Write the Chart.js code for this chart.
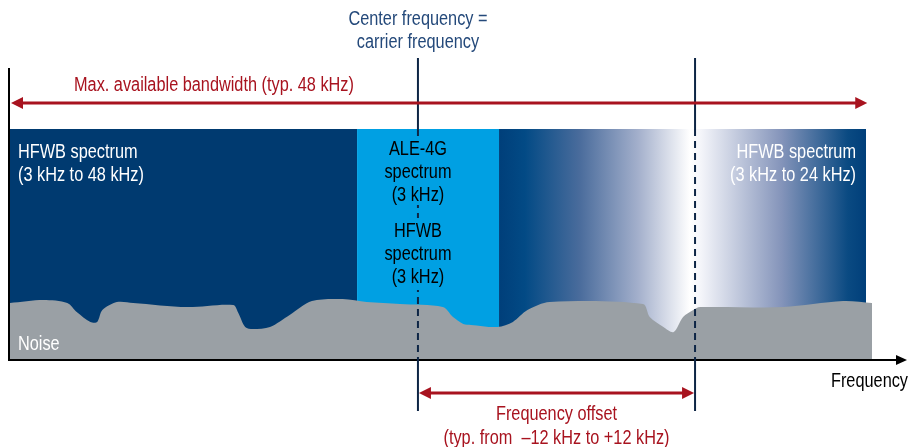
<!DOCTYPE html>
<html>
<head>
<meta charset="utf-8">
<script src="https://cdn.jsdelivr.net/npm/chart.js@4.4.1/dist/chart.umd.min.js"></script>
<style>
html, body { margin: 0; padding: 0; background: #fff; }
#wrap { width: 910px; height: 447px; position: relative; }
</style>
</head>
<body>
<div id="wrap"><canvas id="chart"></canvas></div>
<script>
// x: relative frequency (0 = lower band edge, 100 = upper band edge)
// y: level in % of spectrum block height
const bandNames = ["HFWB spectrum (3 kHz to 48 kHz)", "ALE-4G / HFWB spectrum (3 kHz)", "HFWB spectrum (3 kHz to 24 kHz)"];
const bandStart = [0, 40.58, 57.18];
const bandEnd = [40.58, 57.18, 100.1];
const bandLevel = [100, 100, 100];

const noiseFreq = [0, 3.9, 6.7, 7.8, 9.4, 10.2, 10.8, 12.5, 14.4, 20.7, 26.1, 26.7, 27.5, 28.4, 30.4, 32.7, 35.3, 38.9, 41.7, 45.6, 50.6, 51.8, 53.0, 53.9, 57.0, 58.8, 60.5, 63.1, 74.0, 74.8, 76.4, 77.6, 78.7, 79.9, 80.7, 90.4, 97.4, 100.8];
const noiseLevel = [24.7, 26.0, 24.7, 20.8, 16.5, 16.5, 21.6, 25.1, 24.7, 22.9, 23.8, 20.3, 14.3, 13.4, 14.3, 19.5, 25.5, 26.4, 25.1, 24.2, 22.9, 18.6, 15.6, 15.2, 14.3, 16.5, 21.6, 25.1, 24.2, 18.6, 14.3, 12.1, 18.6, 21.6, 22.9, 22.9, 25.5, 24.7];

const centerFreq = 47.7;
const offsetFreq = 80.1;

const DARK = "#003a70";
const LIGHT = "#00a0e3";
const GREY = "#9aa0a5";
const RED = "#a8131f";
const NAVY = "#0d2545";
const BLUE_TXT = "#24497a";
const FONT = "'Liberation Sans', Arial, sans-serif";
const CONDENSE = 0.815;

function gradientFill(context) {
  const chart = context.chart;
  const xs = chart.scales.x;
  if (!xs || !chart.chartArea) return DARK;
  const x0 = xs.getPixelForValue(bandStart[2]);
  const x1 = xs.getPixelForValue(bandEnd[2]);
  const g = chart.ctx.createLinearGradient(x0, 0, x1, 0);
  g.addColorStop(0, "#003f7a");
  g.addColorStop(0.07, "#024a85");
  g.addColorStop(0.22, "#4a6c9c");
  g.addColorStop(0.38, "#a4b0cc");
  g.addColorStop(0.52, "#ffffff");
  g.addColorStop(0.55, "#f4f5fa");
  g.addColorStop(0.77, "#8494ba");
  g.addColorStop(0.95, "#0a4a82");
  g.addColorStop(1, "#003f7a");
  return g;
}

const bandColors = [DARK, LIGHT, gradientFill];

const datasets = [{
  label: "Noise",
  data: noiseFreq.map((f, i) => ({ x: f, y: noiseLevel[i] })),
  backgroundColor: GREY,
  borderColor: "transparent",
  borderWidth: 0,
  fill: "origin",
  tension: 0.3,
  order: 0
}];

bandNames.forEach((name, i) => {
  datasets.push({
    label: name,
    data: [{ x: bandStart[i], y: bandLevel[i] }, { x: bandEnd[i], y: bandLevel[i] }],
    backgroundColor: bandColors[i],
    borderColor: "transparent",
    borderWidth: 0,
    fill: "origin",
    order: 1
  });
});

/*
 HELPERS
*/
function line(ctx, x1, y1, x2, y2, color, width, dash) {
  ctx.save();
  ctx.strokeStyle = color;
  ctx.lineWidth = width;
  ctx.setLineDash(dash || []);
  ctx.beginPath();
  ctx.moveTo(x1, y1);
  ctx.lineTo(x2, y2);
  ctx.stroke();
  ctx.restore();
}

function head(ctx, tipX, y, dir, color, len, half) {
  ctx.save();
  ctx.fillStyle = color;
  ctx.beginPath();
  ctx.moveTo(tipX, y);
  ctx.lineTo(tipX - dir * len, y - half);
  ctx.lineTo(tipX - dir * len, y + half);
  ctx.closePath();
  ctx.fill();
  ctx.restore();
}

function text(ctx, str, x, y, align, color, size) {
  ctx.save();
  ctx.translate(x, y);
  ctx.scale(CONDENSE, 1);
  ctx.font = `${size || 20}px ${FONT}`;
  ctx.fillStyle = color;
  ctx.textAlign = align;
  ctx.textBaseline = "alphabetic";
  ctx.fillText(str, 0, 0);
  ctx.restore();
}

/*
 ANNOTATIONS
*/
const diagramPlugin = {
  id: "diagram",
  afterDraw(chart) {
    const ctx = chart.ctx;
    const xs = chart.scales.x;
    const ys = chart.scales.y;
    const top = ys.getPixelForValue(100);
    const base = ys.getPixelForValue(0);
    const left = xs.getPixelForValue(0);
    const right = xs.getPixelForValue(100);
    const cx = xs.getPixelForValue(centerFreq);
    const ox = xs.getPixelForValue(offsetFreq);

    // axes
    line(ctx, left - 1, 68, left - 1, base + 1, "#000", 2);
    line(ctx, left - 2, base, 898, base, "#000", 2);
    head(ctx, 907, base, 1, "#000", 11, 5);

    // center and offset markers
    [cx, ox].forEach(x => {
      line(ctx, x, 58, x, top, NAVY, 2);
      line(ctx, x, top, x, base, NAVY, 2, [7, 5]);
      line(ctx, x, base, x, 411, NAVY, 2);
    });

    // mask behind ALE text
    ctx.fillStyle = LIGHT;
    ctx.fillRect(cx - 8, 138, 16, 67);
    ctx.fillRect(cx - 8, 218, 16, 72);

    // max bandwidth arrow
    line(ctx, left + 8, 103, right - 6, 103, RED, 3);
    head(ctx, left + 1, 103, -1, RED, 12, 6);
    head(ctx, right + 2, 103, 1, RED, 12, 6);
    text(ctx, "Max. available bandwidth (typ. 48 kHz)", 74, 91, "left", RED);

    // frequency offset arrow
    line(ctx, cx + 8, 393, ox - 8, 393, RED, 3);
    head(ctx, cx + 1, 393, -1, RED, 12, 6);
    head(ctx, ox - 1, 393, 1, RED, 12, 6);
    text(ctx, "Frequency offset", (cx + ox) / 2, 420, "center", RED);
    text(ctx, "(typ. from  \u201312 kHz to +12 kHz)", (cx + ox) / 2, 444, "center", RED);

    // titles
    text(ctx, "Center frequency =", cx, 25, "center", BLUE_TXT);
    text(ctx, "carrier frequency", cx, 48, "center", BLUE_TXT);
    text(ctx, "Frequency", 908, 387, "right", "#000");

    // block labels
    text(ctx, "HFWB spectrum", 18, 158, "left", "#fff");
    text(ctx, "(3 kHz to 48 kHz)", 18, 181, "left", "#fff");
    text(ctx, "HFWB spectrum", 856, 158, "right", "#fff");
    text(ctx, "(3 kHz to 24 kHz)", 856, 181, "right", "#fff");
    text(ctx, "Noise", 18, 350, "left", "#fff");

    const aleLines = [["ALE-4G", 155], ["spectrum", 178], ["(3 kHz)", 201], ["HFWB", 237], ["spectrum", 260], ["(3 kHz)", 283]];
    aleLines.forEach(([s, y]) => text(ctx, s, cx, y, "center", "#000"));
  }
};

/*
 CHART
*/
new Chart(document.getElementById("chart"), {
  type: "line",
  data: { datasets },
  options: {
    responsive: true,
    maintainAspectRatio: false,
    animation: false,
    layout: { padding: { left: 10, right: 2, top: 129, bottom: 87 } },
    elements: { point: { radius: 0 } },
    scales: {
      x: { type: "linear", min: 0, max: 105, display: false },
      y: { min: 0, max: 100, display: false }
    },
    plugins: {
      legend: { display: false },
      tooltip: { enabled: false }
    }
  },
  plugins: [diagramPlugin]
});
</script>
</body>
</html>
